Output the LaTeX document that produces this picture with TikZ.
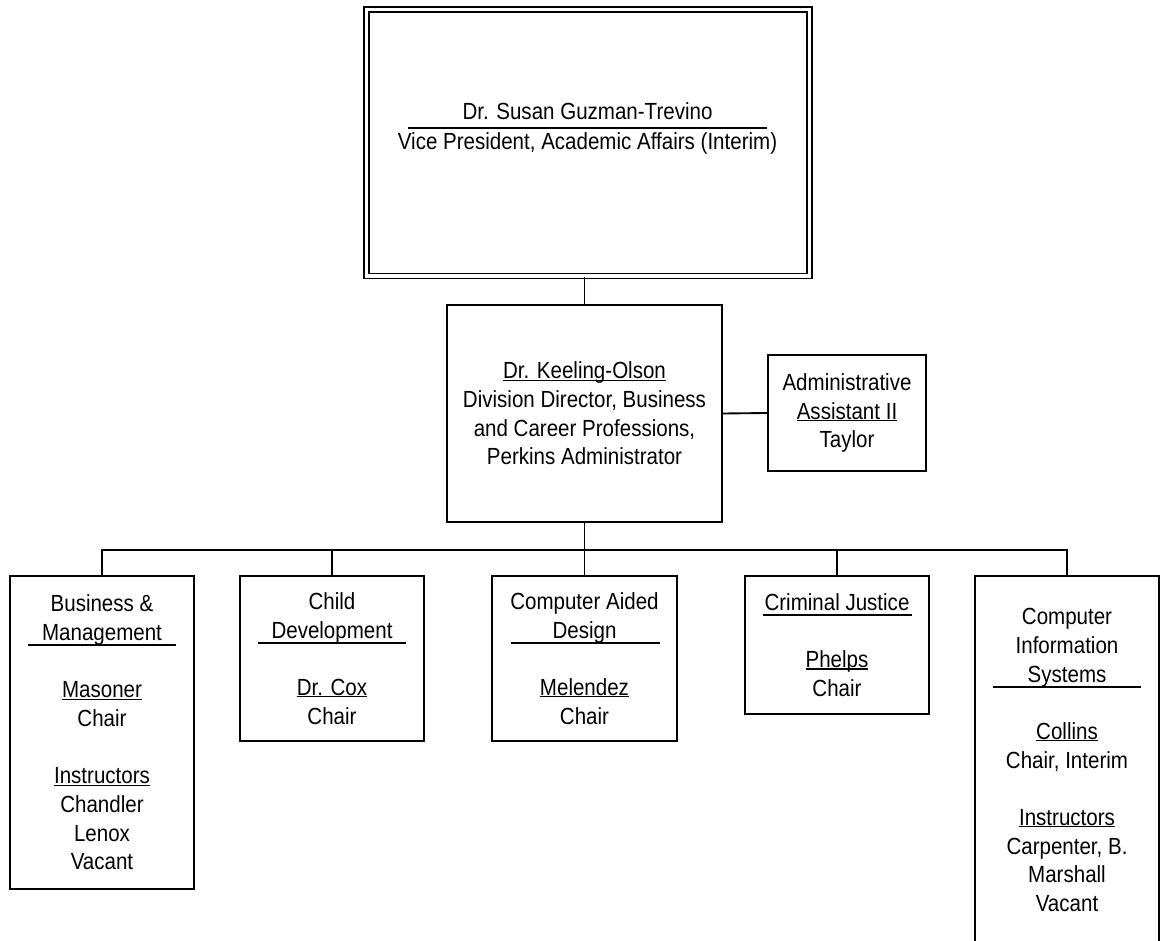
\documentclass[tikz,border=0pt]{standalone}
\usepackage{fontspec}
\setmainfont{Liberation Sans}[FakeStretch=0.88]
\usetikzlibrary{calc}
\newcommand\myul[1]{\setbox0=\hbox{#1}\rlap{\rule[-1.4pt]{\wd0}{0.8pt}}\box0}
\begin{document}
\begin{tikzpicture}[x=0.75pt,y=-0.75pt,
  txt/.style={inner sep=0pt, align=center, font=\fontsize{17.5}{21.5}\selectfont},
  box/.style={txt, draw, line width=1.4pt},
  boxsize/.style 2 args={minimum width=#1*0.75pt, minimum height=#2*0.75pt},
  link/.style={line width=1.4pt},
  hrule/.style={line width=1.4pt}]
\fill[white] (0,0) rectangle (1160,941);
\useasboundingbox (0,0) rectangle (1160,941);

% top box
\node[draw, double, double distance=2.6pt, line width=1.1pt, inner sep=0pt, boxsize={443}{266.5}] (top) at (588,142.75) {};
\node[txt] (toptext) at (587.5,128) {Dr. Susan Guzman-Trevino\\[1pt]Vice President, Academic Affairs (Interim)};
\draw[hrule] ($(toptext.center)+(-179.5,0)$) -- ++(359,0);

% middle box
\node[box, boxsize={275}{217}] (mid) at (584.5,413.5)
  {\myul{Dr. Keeling-Olson}\\Division Director, Business\\and Career Professions,\\Perkins Administrator};

% admin
\node[box, boxsize={158}{116}] (admin) at (847,413)
  {Administrative\\\myul{Assistant II}\\Taylor};

% bottom boxes
\node[box, boxsize={184}{313}] (b1) at (102,732.5)
  {Business \&\\Management\\[21.5pt]\myul{Masoner}\\Chair\\[21.5pt]\myul{Instructors}\\Chandler\\Lenox\\Vacant};
\node[box, boxsize={184}{165}] (b2) at (332,658.5)
  {Child\\Development\\[21.5pt]\myul{Dr. Cox}\\Chair};
\node[box, boxsize={185}{165}] (b3) at (584.5,658.5)
  {Computer Aided\\Design\\[21.5pt]\myul{Melendez}\\Chair};
\node[box, boxsize={184}{138}] (b4) at (837,645)
  {Criminal Justice\\[21.5pt]\myul{Phelps}\\Chair};
\node[box, boxsize={184}{368}] (b5) at (1067,760)
  {Computer\\Information\\Systems\\[21.5pt]\myul{Collins}\\Chair, Interim\\[21.5pt]\myul{Instructors}\\Carpenter, B.\\Marshall\\Vacant};

% header rules
\draw[hrule] ($(b1.north)+(-74,70)$) -- ++(148,0);
\draw[hrule] ($(b2.north)+(-74,68)$) -- ++(148,0);
\draw[hrule] ($(b3.north)+(-74,68)$) -- ++(149,0);
\draw[hrule] ($(b4.north)+(-74,40)$) -- ++(149,0);
\draw[hrule] ($(b5.north)+(-74,112)$) -- ++(148,0);

% connectors
\draw[link] (mid.north) -- (mid.north |- top.south);
\draw[link] (mid.east) -- (admin.west);
\draw[link] (mid.south) -- ++(0,27) coordinate (bus);
\draw[link] (b1.north) -- (b1.north |- bus) -| (b5.north);
\draw[link] (b2.north) -- (b2.north |- bus);
\draw[link] (b3.north) -- (b3.north |- bus);
\draw[link] (b4.north) -- (b4.north |- bus);
\end{tikzpicture}
\end{document}
